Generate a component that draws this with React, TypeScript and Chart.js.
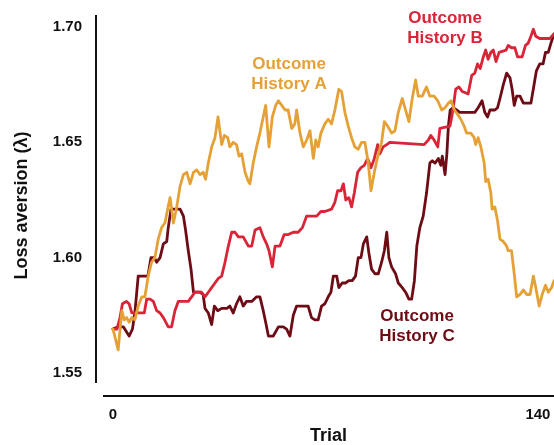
import React, { useEffect, useRef } from "react";
import { Chart, registerables } from "chart.js";

Chart.register(...registerables);

// Outcome History A (orange)
const trialsA = [0,1.7,2.9,3.7,4.5,5.3,6.2,7.2,8.3,9.5,10.5,11.6,12.7,13.8,14.9,16.0,17.1,18.0,18.8,19.9,21.0,22.1,23.2,24.3,25.4,26.5,27.6,28.7,29.7,30.5,31.4,32.5,33.6,34.6,35.8,36.7,37.8,38.5,39.6,40.7,41.5,42.4,43.5,44.6,45.1,46.2,47.3,48.4,49.5,50.3,51.4,52.5,53.6,54.5,55.6,56.7,57.7,58.9,59.9,60.5,61.6,62.7,63.8,64.9,66.0,66.8,67.6,68.5,69.8,70.9,72.0,73.1,74.4,75.3,76.4,77.5,78.6,79.7,80.8,81.9,83.0,84.1,85.0,86.1,87.4,88.5,89.4,90.5,91.8,92.9,94.0,95.3,96.4,97.5,98.6,99.7,100.6,101.9,103.3,104.4,105.8,107.0,108.3,109.4,110.5,111.4,112.5,113.6,114.6,115.7,116.5,117.9,119.0,119.5,120.3,121.2,122.3,122.8,123.6,124.5,124.9,125.8,126.7,127.5,128.6,129.7,130.2,131.3,132.2,133.0,134.1,135.2,136.3,137.4,138.5,139.3,140.4,141.4,142.5,143.4,144.5,145.3];
const valuesA = [1.569,1.560,1.577,1.573,1.574,1.572,1.574,1.573,1.579,1.583,1.583,1.592,1.598,1.600,1.608,1.613,1.615,1.621,1.626,1.615,1.622,1.631,1.636,1.637,1.632,1.637,1.638,1.636,1.637,1.634,1.641,1.648,1.652,1.661,1.649,1.653,1.652,1.648,1.650,1.649,1.644,1.645,1.637,1.633,1.632,1.641,1.648,1.654,1.661,1.666,1.648,1.661,1.666,1.668,1.666,1.664,1.664,1.656,1.658,1.664,1.654,1.648,1.651,1.655,1.643,1.651,1.648,1.654,1.658,1.660,1.658,1.664,1.673,1.672,1.663,1.657,1.652,1.648,1.647,1.650,1.650,1.641,1.629,1.637,1.645,1.650,1.659,1.657,1.654,1.655,1.663,1.669,1.664,1.659,1.669,1.677,1.670,1.670,1.674,1.670,1.670,1.668,1.664,1.665,1.667,1.668,1.664,1.662,1.660,1.657,1.654,1.654,1.652,1.649,1.652,1.648,1.641,1.633,1.634,1.628,1.621,1.622,1.616,1.608,1.607,1.605,1.603,1.603,1.593,1.583,1.584,1.586,1.584,1.584,1.592,1.587,1.579,1.584,1.588,1.585,1.587,1.590];

// Outcome History B (red)
const trialsB = [0,1.3,2.3,3.1,4.4,5.3,6.2,10.3,11.1,12.2,13.3,14.4,15.5,16.6,18.2,19.3,20.4,21.5,24.8,25.9,27.0,29.2,30.3,31.4,32.5,33.6,34.7,35.8,36.9,38.0,39.1,40.2,41.3,42.9,44.6,45.7,46.8,48.4,49.5,50.6,51.4,52.5,53.4,55.0,56.4,57.7,59.4,61.0,62.4,63.8,67.1,68.5,69.8,72.0,73.1,74.0,75.1,75.9,76.7,77.7,78.6,79.5,80.6,81.7,82.8,83.9,85.0,86.1,87.2,87.9,89.0,90.2,91.2,102.5,103.9,104.7,105.8,107.0,107.7,111.0,111.6,112.1,112.9,114.0,115.1,117.0,118.2,119.2,120.1,121.0,122.0,122.8,123.6,124.5,125.3,126.2,127.2,129.5,130.2,131.3,132.4,133.3,134.8,135.9,136.8,137.7,138.5,139.3,140.6,143.9,145.3];
const valuesB = [1.569,1.569,1.574,1.580,1.581,1.580,1.576,1.576,1.582,1.582,1.581,1.577,1.576,1.574,1.570,1.570,1.577,1.581,1.581,1.583,1.585,1.585,1.583,1.585,1.587,1.589,1.591,1.592,1.598,1.605,1.611,1.611,1.609,1.609,1.605,1.605,1.612,1.613,1.609,1.606,1.603,1.596,1.605,1.605,1.610,1.610,1.611,1.611,1.613,1.618,1.618,1.620,1.620,1.621,1.624,1.629,1.629,1.632,1.625,1.626,1.622,1.628,1.637,1.639,1.640,1.643,1.639,1.643,1.649,1.645,1.648,1.649,1.650,1.649,1.651,1.653,1.651,1.648,1.656,1.657,1.661,1.665,1.673,1.674,1.672,1.671,1.679,1.680,1.684,1.682,1.687,1.690,1.686,1.689,1.690,1.685,1.689,1.690,1.692,1.691,1.691,1.687,1.687,1.692,1.693,1.696,1.699,1.696,1.695,1.695,1.697];

// Outcome History C (dark red)
const trialsC = [0,1.7,3.4,5.3,6.4,7.2,8.3,10.5,11.5,12.5,13.6,14.4,15.5,16.6,17.7,18.2,19.1,22.1,23.2,23.9,24.8,25.7,26.5,28.7,29.7,30.3,31.4,32.5,33.4,34.5,35.8,37.5,38.5,39.6,40.7,41.8,42.9,44.0,45.7,47.3,48.4,49.5,50.3,51.2,52.8,54.5,56.1,57.2,58.3,59.4,60.5,63.2,64.3,65.4,66.5,67.6,68.7,69.8,70.9,71.8,72.6,73.7,74.4,75.5,76.6,77.7,78.8,79.9,80.8,81.7,82.5,83.6,84.3,85.2,86.3,87.4,88.5,89.4,90.2,90.9,91.8,93.1,94.0,95.3,96.4,97.5,98.4,99.3,100.1,101.1,102.2,103.3,104.4,105.2,106.1,107.2,108.0,108.5,109.4,110.0,110.5,111.1,112.1,113.2,114.3,119.2,120.3,121.6,122.5,123.4,124.2,125.8,126.7,127.5,128.6,129.7,130.8,131.5,132.2,133.0,134.1,135.2,137.7,138.6,139.5,140.6,141.7,142.5,143.4,144.3,145.3];
const valuesC = [1.569,1.570,1.570,1.566,1.569,1.576,1.592,1.592,1.592,1.600,1.600,1.598,1.600,1.606,1.607,1.613,1.621,1.621,1.618,1.612,1.603,1.595,1.585,1.585,1.584,1.578,1.576,1.571,1.579,1.577,1.578,1.578,1.579,1.576,1.580,1.583,1.579,1.581,1.581,1.583,1.583,1.577,1.572,1.566,1.566,1.570,1.570,1.569,1.566,1.575,1.579,1.579,1.579,1.574,1.573,1.573,1.579,1.580,1.583,1.585,1.592,1.592,1.587,1.589,1.589,1.590,1.590,1.592,1.600,1.600,1.606,1.609,1.602,1.595,1.593,1.593,1.598,1.603,1.611,1.600,1.596,1.593,1.589,1.587,1.585,1.582,1.582,1.590,1.605,1.613,1.618,1.628,1.641,1.642,1.641,1.643,1.640,1.644,1.636,1.645,1.657,1.664,1.665,1.664,1.663,1.663,1.665,1.668,1.663,1.661,1.664,1.664,1.665,1.669,1.675,1.680,1.678,1.673,1.666,1.670,1.670,1.667,1.667,1.674,1.681,1.684,1.684,1.689,1.689,1.693,1.697];

const xTickValues = [0, 140];
const yTickValues = [1.55, 1.6, 1.65, 1.7];
const seriesNames = ["Outcome History A", "Outcome History B", "Outcome History C"];

const ORANGE = "#E6A136";
const RED = "#DA2438";
const DARK = "#6E0C16";
const FONT = "'Liberation Sans', Arial, Helvetica, sans-serif";

const toPoints = (xs: number[], ys: number[]) => xs.map((x, i) => ({ x, y: ys[i] }));

const decorPlugin = {
  id: "decor",
  afterDatasetsDraw(chart: any) {
    const { ctx, chartArea: a } = chart;
    ctx.save();
    ctx.strokeStyle = "#111";
    ctx.lineWidth = 2;
    ctx.beginPath();
    ctx.moveTo(a.left, a.bottom);
    ctx.lineTo(a.right, a.bottom);
    ctx.stroke();
    ctx.beginPath();
    ctx.moveTo(a.left - 7, a.top);
    ctx.lineTo(a.left - 7, a.bottom - 13);
    ctx.stroke();

    ctx.font = `bold 17px ${FONT}`;
    ctx.textAlign = "center";
    ctx.textBaseline = "middle";
    const labels = [
      { name: seriesNames[0], color: ORANGE, cx: 289, cy: 64 },
      { name: seriesNames[1], color: RED, cx: 445, cy: 18 },
      { name: seriesNames[2], color: DARK, cx: 417, cy: 316 },
    ];
    labels.forEach((l) => {
      const words = l.name.split(" ");
      ctx.fillStyle = l.color;
      ctx.fillText(words[0], l.cx, l.cy);
      ctx.fillText(words.slice(1).join(" "), l.cx, l.cy + 20);
    });
    ctx.restore();
  },
};

export default function App() {
  const ref = useRef<HTMLCanvasElement>(null);
  useEffect(() => {
    if (!ref.current) return;
    const tickFont = { family: FONT, size: 15, weight: "bold" as const };
    const titleFont = { family: FONT, size: 18, weight: "bold" as const, lineHeight: 1 };
    const chart = new Chart(ref.current, {
      type: "line",
      data: {
        datasets: [
          { label: seriesNames[0], data: toPoints(trialsA, valuesA), borderColor: ORANGE },
          { label: seriesNames[1], data: toPoints(trialsB, valuesB), borderColor: RED },
          { label: seriesNames[2], data: toPoints(trialsC, valuesC), borderColor: DARK },
        ],
      },
      options: {
        responsive: false,
        animation: false,
        layout: { padding: { top: 15, left: 0, right: 0, bottom: 0 } },
        plugins: { legend: { display: false }, tooltip: { enabled: false } },
        elements: {
          point: { radius: 0 },
          line: { borderWidth: 2.8, tension: 0, borderJoinStyle: "round", borderCapStyle: "round", fill: false },
        },
        scales: {
          x: {
            type: "linear",
            min: -3.3,
            max: 145.3,
            grid: { display: false, drawTicks: false },
            border: { display: false },
            afterBuildTicks: (s: any) => {
              s.ticks = xTickValues.map((v) => ({ value: v }));
            },
            afterFit: (s: any) => {
              s.height = 49;
              s.paddingLeft = 0;
              s.paddingRight = 0;
            },
            ticks: {
              padding: 10,
              font: tickFont,
              color: "#111",
              maxRotation: 0,
              autoSkip: false,
              callback: (v: any) => String(v),
            },
            title: { display: true, text: "Trial", font: titleFont, color: "#111", padding: { top: 0, bottom: 0 } },
          },
          y: {
            type: "linear",
            min: 1.54,
            max: 1.7052,
            grid: { display: false, drawTicks: false },
            border: { display: false },
            afterBuildTicks: (s: any) => {
              s.ticks = yTickValues.map((v) => ({ value: v }));
            },
            afterFit: (s: any) => {
              s.width = 103;
              s.paddingTop = 0;
              s.paddingBottom = 0;
            },
            ticks: {
              padding: 21,
              font: tickFont,
              color: "#111",
              autoSkip: false,
              callback: (v: any) => Number(v).toFixed(2),
            },
            title: {
              display: true,
              text: "Loss aversion (λ)",
              font: titleFont,
              color: "#111",
              padding: { top: 13, bottom: 0 },
            },
          },
        },
      },
      plugins: [decorPlugin],
    });
    return () => chart.destroy();
  }, []);

  return (
    <div style={{ position: "absolute", left: 0, top: 0, width: 554, height: 445, background: "#fff" }}>
      <canvas ref={ref} width={554} height={445} style={{ display: "block" }} />
    </div>
  );
}
